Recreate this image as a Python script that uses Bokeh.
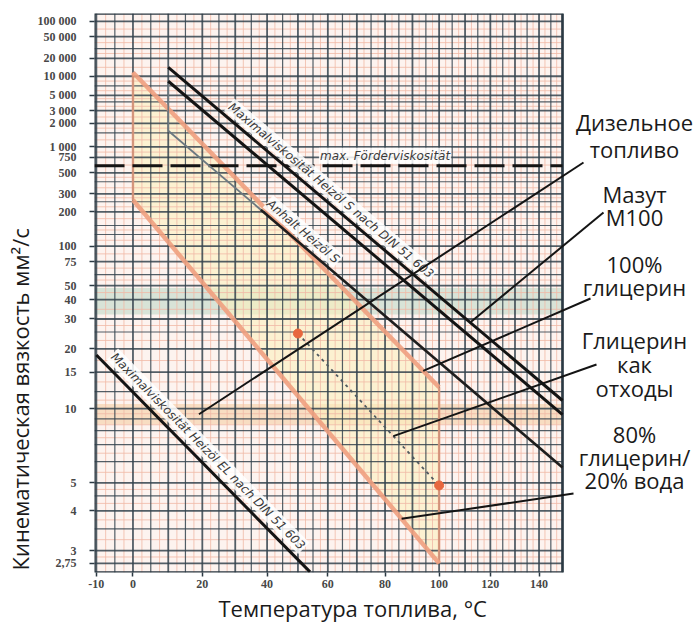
import numpy as np
from bokeh.plotting import figure
from bokeh.models import Range1d, FixedTicker, CustomJSTickFormatter, Label, Arrow, Title
from bokeh.embed import file_html
from bokeh.resources import INLINE

# ---------------- data (°C, mm²/s) ----------------
x_tick_c = [-10, 0, 20, 40, 60, 80, 100, 120, 140]
y_tick_nu = [100000, 50000, 20000, 10000, 5000, 3000, 2000, 1000, 750, 500, 300, 200,
             100, 75, 50, 40, 30, 20, 15, 10, 5, 4, 3, 2.75]
grid_t_c = list(range(-10, 151, 5))
grid_nu = [100000, 50000, 30000, 20000, 10000, 7000, 5000, 4000, 3000, 2000, 1500, 1000,
           750, 500, 400, 300, 250, 200, 150, 125, 100, 75, 60, 50, 40, 30, 25, 20, 15,
           12, 10, 9, 8, 7, 6, 5, 4.5, 4, 3.5, 3, 2.75]

s_max_upper_t = [10, 150]
s_max_upper_nu = [14000, 10.9]
s_max_lower_t = [10, 150]
s_max_lower_nu = [8300, 9.4]
s_guide_t = [10, 150]
s_guide_nu = [1600, 5.7]
el_max_t = [-10, 54]
el_max_nu = [18.5, 2.6]
gly100_t = [0, 100]
gly100_nu = [11500, 12.6]
gly80_t = [0, 100]
gly80_nu = [260, 2.75]
waste_t = [50, 100]
waste_nu = [24.5, 4.9]
pump_limit_nu = 600
band_heavy_nu = [32, 48]
band_diesel_nu = [8.5, 10.5]
chart_t = [-10.5, 150]
chart_nu = [2.59, 146000]

# ---------------- transforms (Ubbelohde chart) ----------------
K0 = 273.0


def tk(t):
    return np.asarray(t, dtype=float) + K0


def ww(nu):
    return np.log10(np.log10(np.asarray(nu, dtype=float) + 0.8))


CHART_W, FW, FH = 468, 602, 559       # chart area width, frame width, frame height (px)
x0, xc = float(tk(chart_t[0])), float(tk(chart_t[1]))
SX = CHART_W / np.log(xc / x0)
x1 = float(x0 * np.exp(FW / SX))       # frame extends to the right for the captions
y0, y1 = float(ww(chart_nu[0])), float(ww(chart_nu[1]))
SY = FH / (y1 - y0)


def angle_of(t, nu):
    dx = (np.log(tk(t[1])) - np.log(tk(t[0]))) * SX
    dy = (ww(nu[1]) - ww(nu[0])) * SY
    return float(np.arctan2(dy, dx))


def at(t, nu, tq):
    f = (np.log(tk(tq)) - np.log(tk(t[0]))) / (np.log(tk(t[1])) - np.log(tk(t[0])))
    return float(tk(tq)), float(ww(nu[0]) + f * (ww(nu[1]) - ww(nu[0])))


p = figure(x_axis_type="log", x_range=Range1d(x0, x1), y_range=Range1d(y0, y1),
           frame_width=FW, frame_height=FH,
           min_border_left=94, min_border_right=0, min_border_top=13, min_border_bottom=46,
           output_backend="svg", toolbar_location=None)
p.xgrid.visible = False
p.ygrid.visible = False
p.background_fill_color = "white"
p.border_fill_color = "white"
p.outline_line_color = None

# axes
p.xaxis.ticker = FixedTicker(ticks=[float(v) for v in tk(x_tick_c)], minor_ticks=[])
p.xaxis.formatter = CustomJSTickFormatter(code="return String(Math.round(tick - 273));")
p.yaxis.ticker = FixedTicker(ticks=[float(v) for v in ww(y_tick_nu)], minor_ticks=[])
p.yaxis.formatter = CustomJSTickFormatter(code=r"""
const v = Math.pow(10, Math.pow(10, tick)) - 0.8;
const r = Math.round(v * 100) / 100;
if (r >= 1000) { return String(Math.round(r)).replace(/\B(?=(\d{3})+(?!\d))/g, " "); }
return String(r).replace(".", ",");
""")
for ax in (p.xaxis[0], p.yaxis[0]):
    ax.axis_line_color = None
    ax.major_tick_line_color = "#2b3943"
    ax.major_tick_line_width = 1.5
    ax.major_tick_out = 5
    ax.major_tick_in = 0
    ax.major_label_text_font = "Liberation Sans Narrow"
    ax.major_label_text_font_style = "bold"
    ax.major_label_text_font_size = "12px"
    ax.major_label_text_color = "#474747"
p.yaxis.major_label_standoff = 13
p.xaxis.major_tick_out = 4
p.xaxis.major_label_standoff = 3

TFONT = dict(text_font="Open Sans", text_font_size="22px", text_font_style="normal",
             text_color="#1a1a1a")
p.add_layout(Title(text="Кинематическая вязкость мм²/с", align="left", offset=2,
                   standoff=0, **TFONT), "left")
p.add_layout(Title(text="Температура топлива, °C", align="left", offset=124,
                   standoff=0, **TFONT), "below")

# paper, bands and fill
p.quad(left=x0, right=xc, bottom=y0, top=y1, fill_color="#fdf3ef", line_color=None)
p.quad(left=x0, right=xc, bottom=float(ww(band_heavy_nu[0])), top=float(ww(band_heavy_nu[1])),
       fill_color="#b3d4bf", fill_alpha=0.5, line_color=None)
p.quad(left=x0, right=xc, bottom=float(ww(band_diesel_nu[0])), top=float(ww(band_diesel_nu[1])),
       fill_color="#f3c796", fill_alpha=0.5, line_color=None)
p.patch(x=tk(gly100_t + gly80_t[::-1]), y=ww(gly100_nu + gly80_nu[::-1]),
        fill_color="#fbf0bd", fill_alpha=0.6, line_color=None)

# grid
mid_t = [t + 2.5 for t in grid_t_c[:-1]]
p.segment(x0=tk(mid_t), y0=[y0] * len(mid_t), x1=tk(mid_t), y1=[y1] * len(mid_t),
          line_color="#f0b9a6", line_width=1, line_alpha=0.8)
gw = ww(grid_nu)
mid_w = (gw[:-1] + gw[1:]) / 2
p.segment(x0=[x0] * len(mid_w), y0=mid_w, x1=[xc] * len(mid_w), y1=mid_w,
          line_color="#f0b9a6", line_width=1, line_alpha=0.8)
p.segment(x0=tk(grid_t_c), y0=[y0] * len(grid_t_c), x1=tk(grid_t_c), y1=[y1] * len(grid_t_c),
          line_color="#34434d", line_width=[1.8 if t % 10 == 0 else 1.2 for t in grid_t_c],
          line_alpha=0.85)
p.segment(x0=[x0] * len(gw), y0=gw, x1=[xc] * len(gw), y1=gw,
          line_color="#34434d", line_width=[1.8 if v in y_tick_nu else 1.2 for v in grid_nu],
          line_alpha=0.85)
p.quad(left=x0, right=xc, bottom=y0, top=y1, fill_color=None, line_color="#2b3943",
       line_width=2.5)

# glycerin region borders
ORANGE = "#f0a07f"
p.line(tk(gly100_t), ww(gly100_nu), line_color=ORANGE, line_width=4.5, line_alpha=0.9)
p.line(tk(gly80_t), ww(gly80_nu), line_color=ORANGE, line_width=4.5, line_alpha=0.9)
p.line(tk([gly100_t[0], gly80_t[0]]), ww([gly100_nu[0], gly80_nu[0]]),
       line_color=ORANGE, line_width=2.5, line_alpha=0.8)
p.line(tk([gly100_t[1], gly80_t[1]]), ww([gly100_nu[1], gly80_nu[1]]),
       line_color=ORANGE, line_width=2.5, line_alpha=0.8)

# pump viscosity limit
p.line([x0, xc], [float(ww(pump_limit_nu))] * 2, line_color="#141414", line_width=3,
       line_dash="30 8")

# fuel oil lines
split = at(s_guide_t, s_guide_nu, 38)
p.line(tk([s_max_lower_t[0], s_guide_t[0]]), ww([s_max_lower_nu[0], s_guide_nu[0]]),
       line_color="#6b7880", line_width=1.6)
p.line([float(tk(s_guide_t[0])), split[0]], [float(ww(s_guide_nu[0])), split[1]],
       line_color="#6b7880", line_width=1.8)
p.line([split[0], float(tk(s_guide_t[1]))], [split[1], float(ww(s_guide_nu[1]))],
       line_color="#1e1e1e", line_width=2.6)
p.line(tk(s_max_upper_t), ww(s_max_upper_nu), line_color="#141414", line_width=3)
p.line(tk(s_max_lower_t), ww(s_max_lower_nu), line_color="#141414", line_width=3)
p.line(tk(el_max_t), ww(el_max_nu), line_color="#141414", line_width=3)

# waste glycerin
p.line(tk(waste_t), ww(waste_nu), line_color="#505a60", line_width=1.8, line_dash="3 4")
p.scatter(tk(waste_t), ww(waste_nu), size=9, color="#e8673e")

# labels along lines
LFONT = dict(text_font="DejaVu Sans", text_font_style="italic", text_font_size="12px",
             text_color="#3a3a3a", background_fill_color="white",
             background_fill_alpha=0.85, padding=1)


def line_label(text, t, nu, tq, off=3):
    a = angle_of(t, nu)
    x, y = at(t, nu, tq)
    p.add_layout(Label(x=x, y=y, text=text, angle=a, text_align="left", text_baseline="bottom",
                       x_offset=-np.sin(a) * off, y_offset=np.cos(a) * off, **LFONT))


line_label("Maximalviskosität Heizöl S nach DIN 51 603", s_max_upper_t, s_max_upper_nu, 26)
line_label("Anhalt Heizöl S", s_guide_t, s_guide_nu, 38)
line_label("Maximalviskosität Heizöl EL nach DIN 51 603", el_max_t, el_max_nu, -8, off=4)
p.add_layout(Label(x=float(tk(80)), y=float(ww(pump_limit_nu)), text="max. Förderviskosität",
                   text_align="center", text_baseline="bottom", y_offset=2, **LFONT))

# right-hand captions (screen units, relative to the frame's bottom-left corner)
FL, FB = 94, 572
captions = [("Дизельное", 121), ("топливо", 148), ("Мазут", 193), ("М100", 216),
            ("100%", 263), ("глицерин", 286), ("Глицерин", 339), ("как", 363),
            ("отходы", 387), ("80%", 433), ("глицерин/", 456), ("20% вода", 479)]
for txt, py in captions:
    p.add_layout(Label(x=634 - FL, y=FB - py, x_units="screen", y_units="screen", text=txt,
                       text_align="center", text_baseline="middle", text_font="Open Sans",
                       text_font_size="22px", text_color="#1a1a1a"))

pointers = [((583, 162), (float(tk(19)), float(ww(band_diesel_nu).mean()))),
            ((603, 212), at(s_max_upper_t, s_max_upper_nu, 112)),
            ((590, 298), at(gly100_t, gly100_nu, 94)),
            ((596, 364), at(waste_t, waste_nu, 83)),
            ((573, 493), at(gly80_t, gly80_nu, 86))]
for (px, py), (ex, ey) in pointers:
    p.add_layout(Arrow(end=None, x_start=px - FL, y_start=FB - py, start_units="screen",
                       x_end=ex, y_end=ey, end_units="data", line_color="#141414",
                       line_width=2))

open("out.html", "w").write(file_html(p, INLINE))
